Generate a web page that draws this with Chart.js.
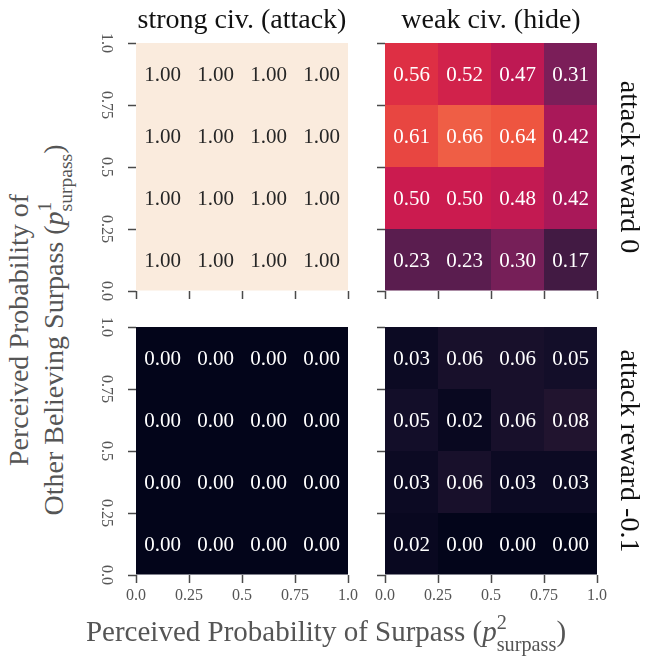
<!DOCTYPE html>
<html>
<head>
<meta charset="utf-8">
<script src="https://cdn.jsdelivr.net/npm/chart.js@4/dist/chart.umd.min.js"></script>
<style>
  html, body { margin: 0; padding: 0; background: #fff; }
  #fig { position: relative; width: 654px; height: 667px; overflow: hidden; font-family: "Liberation Serif", serif; }
  #fig canvas { position: absolute; }
  .lbl { position: absolute; white-space: nowrap; font-size: 28px; line-height: 30px; text-align: center; transform: translate(-50%, -50%); }
  .title { color: #111; }
  .axis { color: #555; }
  #xlab { font-size: 29px; }
  .rot-l { transform: translate(-50%, -50%) rotate(-90deg); }
  .rot-r { transform: translate(-50%, -50%) rotate(90deg); }
  .ss { display: inline-flex; flex-direction: column; vertical-align: 0.42em; line-height: 0.75em; text-align: left; }
  .ss span { font-size: 0.7em; line-height: 1.08; }
</style>
</head>
<body>
<div id="fig">
  <canvas id="c00"></canvas>
  <canvas id="c01"></canvas>
  <canvas id="c10"></canvas>
  <canvas id="c11"></canvas>
  <div class="lbl title" id="t0"></div>
  <div class="lbl title" id="t1"></div>
  <div class="lbl title rot-r" id="r0"></div>
  <div class="lbl title rot-r" id="r1"></div>
  <div class="lbl axis rot-l" id="ylab">Perceived Probability of<br>Other Believing Surpass (<i>p</i><span class="ss"><span>1</span><span>surpass</span></span>)</div>
  <div class="lbl axis" id="xlab">Perceived Probability of Surpass (<i>p</i><span class="ss"><span>2</span><span>surpass</span></span>)</div>
</div>
<script>
// bin edges / ticks shared by both axes of every panel
const xEdges = [0, 0.25, 0.5, 0.75, 1.0];
const yEdges = [0, 0.25, 0.5, 0.75, 1.0];
const tickLabels = ['0.0', '0.25', '0.5', '0.75', '1.0'];

const colTitles = ['strong civ. (attack)', 'weak civ. (hide)'];
const rowTitles = ['attack reward 0', 'attack reward -0.1'];

// each grid: rows from top (0.75-1.0) to bottom (0-0.25), columns left to right
const strongReward0 = [
  [1.00, 1.00, 1.00, 1.00],
  [1.00, 1.00, 1.00, 1.00],
  [1.00, 1.00, 1.00, 1.00],
  [1.00, 1.00, 1.00, 1.00]
];
const weakReward0 = [
  [0.56, 0.52, 0.47, 0.31],
  [0.61, 0.66, 0.64, 0.42],
  [0.50, 0.50, 0.48, 0.42],
  [0.23, 0.23, 0.30, 0.17]
];
const strongRewardNeg = [
  [0.00, 0.00, 0.00, 0.00],
  [0.00, 0.00, 0.00, 0.00],
  [0.00, 0.00, 0.00, 0.00],
  [0.00, 0.00, 0.00, 0.00]
];
const weakRewardNeg = [
  [0.03, 0.06, 0.06, 0.05],
  [0.05, 0.02, 0.06, 0.08],
  [0.03, 0.06, 0.03, 0.03],
  [0.02, 0.00, 0.00, 0.00]
];

// layout
const PANEL_W = 212, PANEL_H = 248;
const colLeft = [136, 385];
const rowTop = [43, 327];
const AX_W = 60, AX_H = 40, PAD_T = 24, PAD_R = 24;
const FONT = 'Liberation Serif';

// approximate seaborn "rocket" colormap
const rocketStops = [
  [0.00, '#03051a'], [0.03, '#0c0a23'], [0.05, '#130e29'], [0.08, '#21142f'],
  [0.143, '#35193e'], [0.17, '#421a43'], [0.23, '#5a1d4f'], [0.286, '#701f57'],
  [0.35, '#8c1d5c'], [0.429, '#ad1759'], [0.50, '#cb1b4f'], [0.571, '#e13342'],
  [0.64, '#ee5540'], [0.714, '#f37651'], [0.857, '#f6b48f'], [1.00, '#faebdd']
];

function hexRgb(h) {
  return [parseInt(h.slice(1, 3), 16), parseInt(h.slice(3, 5), 16), parseInt(h.slice(5, 7), 16)];
}

function rocketRgb(v) {
  v = Math.max(0, Math.min(1, v));
  for (let i = 1; i < rocketStops.length; i++) {
    const [v1, c1] = rocketStops[i];
    if (v <= v1) {
      const [v0, c0] = rocketStops[i - 1];
      const t = (v - v0) / (v1 - v0);
      const a = hexRgb(c0), b = hexRgb(c1);
      return a.map((x, k) => Math.round(x + (b[k] - x) * t));
    }
  }
  return hexRgb(rocketStops[rocketStops.length - 1][1]);
}

function rocket(v) {
  const c = rocketRgb(v);
  return `rgb(${c[0]}, ${c[1]}, ${c[2]})`;
}

// same rule seaborn uses for annotation colour
function textColor(v) {
  const lin = rocketRgb(v).map(x => {
    x /= 255;
    return x <= 0.03928 ? x / 12.92 : Math.pow((x + 0.055) / 1.055, 2.4);
  });
  const lum = 0.2126 * lin[0] + 0.7152 * lin[1] + 0.0722 * lin[2];
  return lum > 0.408 ? '#262626' : '#ffffff';
}

// writes each cell's value in its middle
const cellLabels = {
  id: 'cellLabels',
  afterDatasetsDraw(chart) {
    const ctx = chart.ctx;
    const xs = chart.scales.x, ys = chart.scales.y;
    ctx.save();
    ctx.font = `21px "${FONT}"`;
    ctx.textAlign = 'center';
    ctx.textBaseline = 'middle';
    chart.data.datasets[0].data.forEach(p => {
      ctx.fillStyle = textColor(p.v);
      ctx.fillText(p.v.toFixed(2), xs.getPixelForValue(p.x), ys.getPixelForValue((p.y[0] + p.y[1]) / 2) + 1);
    });
    ctx.restore();
  }
};

function gridPoints(values) {
  const pts = [];
  values.forEach((row, r) => {
    const yi = yEdges.length - 2 - r;
    row.forEach((v, c) => {
      pts.push({ x: (xEdges[c] + xEdges[c + 1]) / 2, y: [yEdges[yi], yEdges[yi + 1]], v: v });
    });
  });
  return pts;
}

const tickGrid = {
  display: true, offset: false, drawOnChartArea: false, drawTicks: true,
  tickLength: 8, tickWidth: 1.5, tickColor: '#4a4a4a'
};

function makePanel(id, values, r, c) {
  const el = document.getElementById(id);
  el.width = AX_W + PANEL_W + PAD_R;
  el.height = PAD_T + PANEL_H + AX_H;
  el.style.left = (colLeft[c] - AX_W) + 'px';
  el.style.top = (rowTop[r] - PAD_T) + 'px';
  const showX = r === 1, showY = c === 0;

  return new Chart(el, {
    type: 'bar',
    data: {
      datasets: [{
        data: gridPoints(values),
        backgroundColor: ctx => ctx.raw ? rocket(ctx.raw.v) : '#000',
        borderWidth: 0,
        inflateAmount: 0,
        barPercentage: 1,
        categoryPercentage: 1
      }]
    },
    options: {
      responsive: false,
      animation: false,
      events: [],
      layout: { padding: { top: PAD_T, right: PAD_R, left: 0, bottom: 0 } },
      plugins: { legend: { display: false }, tooltip: { enabled: false } },
      scales: {
        x: {
          type: 'linear', min: 0, max: 1, offset: false,
          afterBuildTicks: s => { s.ticks = xEdges.map(v => ({ value: v })); },
          afterFit: s => { s.height = AX_H; },
          border: { display: false },
          grid: tickGrid,
          ticks: {
            display: showX, minRotation: 0, maxRotation: 0, padding: 3,
            color: '#555', font: { family: FONT, size: 16 },
            callback: (v, i) => tickLabels[i]
          }
        },
        y: {
          type: 'linear', min: 0, max: 1,
          afterBuildTicks: s => { s.ticks = yEdges.map(v => ({ value: v })); },
          afterFit: s => { s.width = AX_W; },
          border: { display: false },
          grid: tickGrid,
          ticks: {
            display: showY, minRotation: -90, maxRotation: -90, crossAlign: 'center', padding: 8,
            color: '#555', font: { family: FONT, size: 16 },
            callback: (v, i) => tickLabels[i]
          }
        }
      }
    },
    plugins: [cellLabels]
  });
}

makePanel('c00', strongReward0, 0, 0);
makePanel('c01', weakReward0, 0, 1);
makePanel('c10', strongRewardNeg, 1, 0);
makePanel('c11', weakRewardNeg, 1, 1);

function place(id, text, x, y) {
  const el = document.getElementById(id);
  if (text !== null) el.textContent = text;
  el.style.left = x + 'px';
  el.style.top = y + 'px';
}

place('t0', colTitles[0], colLeft[0] + PANEL_W / 2, 19);
place('t1', colTitles[1], colLeft[1] + PANEL_W / 2, 19);
place('r0', rowTitles[0], 630, rowTop[0] + PANEL_H / 2);
place('r1', rowTitles[1], 630, rowTop[1] + PANEL_H / 2);
place('ylab', null, 40, 330);
place('xlab', null, 326, 634);
</script>
</body>
</html>
